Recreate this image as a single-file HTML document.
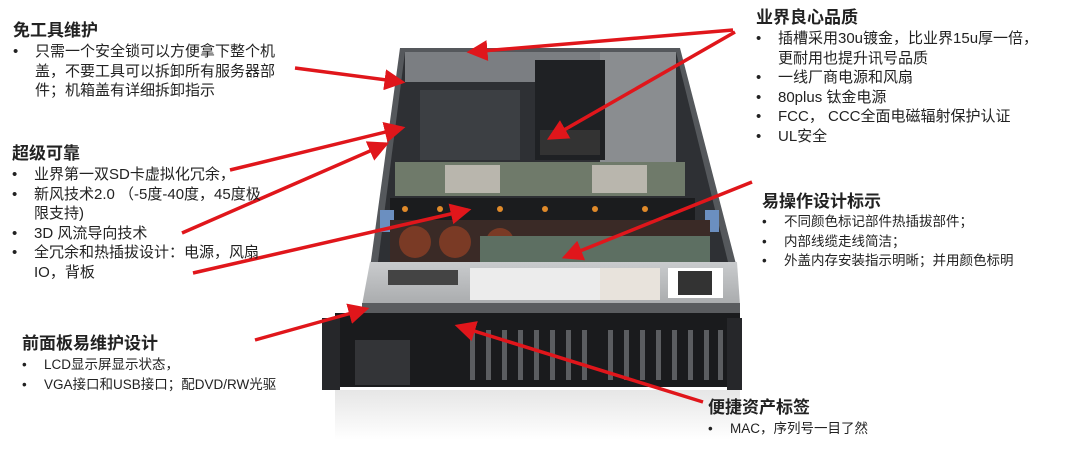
<!DOCTYPE html>
<html><head><meta charset="utf-8"><style>
body{margin:0;width:1080px;height:475px;background:#fff;position:relative;overflow:hidden;font-family:"Liberation Sans","Noto Sans CJK SC",sans-serif;color:#222}
.t{position:absolute;white-space:nowrap}
.h{font-weight:bold;font-size:17px;line-height:20px}
.l{font-size:15px;line-height:19.5px}
.s{font-size:13.5px;line-height:19.5px}
.b{padding-left:22px;text-indent:-22px}
.b::before{content:"•";display:inline-block;width:22px;text-indent:0}
svg{position:absolute;left:0;top:0}
</style></head><body>
<svg width="1080" height="475" viewBox="0 0 1080 475">
<defs>
<linearGradient id="lid" x1="0" y1="0" x2="0" y2="1"><stop offset="0" stop-color="#c9cbcd"/><stop offset="1" stop-color="#a9abad"/></linearGradient>
<linearGradient id="sh" x1="0" y1="0" x2="0" y2="1"><stop offset="0" stop-color="#e6e6e6"/><stop offset="1" stop-color="#fff"/></linearGradient>
<marker id="a" markerWidth="6" markerHeight="6" refX="5" refY="3" orient="auto" markerUnits="strokeWidth"><path d="M0,0 L6,3 L0,6 z" fill="#e0161b"/></marker>
</defs>
<rect x="335" y="390" width="405" height="50" fill="url(#sh)"/>
<polygon points="400,48 680,48 737,268 370,268" fill="#55585c"/>
<polygon points="405,52 676,52 728,262 378,262" fill="#2e3034"/>
<rect x="405" y="52" width="220" height="30" fill="#7b7e82"/>
<rect x="600" y="52" width="76" height="140" fill="#8a8d90"/>
<rect x="420" y="90" width="100" height="70" fill="#3c3f43"/>
<rect x="535" y="60" width="70" height="100" fill="#1f2124"/>
<rect x="540" y="130" width="60" height="25" fill="#333"/>
<rect x="395" y="162" width="290" height="34" fill="#6f7a6a"/>
<rect x="445" y="165" width="55" height="28" fill="#b9b6ad"/>
<rect x="592" y="165" width="55" height="28" fill="#b9b6ad"/>
<rect x="390" y="198" width="305" height="22" fill="#1b1c1e"/>
<g fill="#e08a2a"><circle cx="405" cy="209" r="3"/><circle cx="440" cy="209" r="3"/><circle cx="500" cy="209" r="3"/><circle cx="545" cy="209" r="3"/><circle cx="595" cy="209" r="3"/><circle cx="645" cy="209" r="3"/></g>
<rect x="380" y="210" width="14" height="22" fill="#6b8fc0"/><rect x="705" y="210" width="14" height="22" fill="#6b8fc0"/>
<rect x="390" y="220" width="320" height="42" fill="#3a2a26"/>
<g fill="#7a3a25"><circle cx="415" cy="242" r="16"/><circle cx="455" cy="242" r="16"/><circle cx="500" cy="242" r="14"/></g>
<rect x="480" y="236" width="230" height="26" fill="#5d6f62"/>
<polygon points="370,262 737,262 740,305 362,305" fill="url(#lid)"/>
<rect x="388" y="270" width="70" height="15" fill="#444"/>
<rect x="470" y="268" width="130" height="32" fill="#ececec"/>
<rect x="600" y="268" width="60" height="32" fill="#e8e3dc"/>
<rect x="668" y="268" width="55" height="30" fill="#fff"/><rect x="678" y="271" width="34" height="24" fill="#333"/>
<rect x="362" y="303" width="378" height="10" fill="#5a5c5f"/>
<rect x="335" y="313" width="405" height="74" fill="#1a1b1d"/>
<rect x="322" y="318" width="18" height="72" fill="#26272a"/><rect x="727" y="318" width="15" height="72" fill="#26272a"/>
<rect x="355" y="340" width="55" height="45" fill="#333437"/>
<g fill="#5b5d60">
<rect x="470" y="330" width="5" height="50"/><rect x="486" y="330" width="5" height="50"/><rect x="502" y="330" width="5" height="50"/><rect x="518" y="330" width="5" height="50"/><rect x="534" y="330" width="5" height="50"/><rect x="550" y="330" width="5" height="50"/><rect x="566" y="330" width="5" height="50"/><rect x="582" y="330" width="5" height="50"/>
<rect x="608" y="330" width="5" height="50"/><rect x="624" y="330" width="5" height="50"/><rect x="640" y="330" width="5" height="50"/><rect x="656" y="330" width="5" height="50"/><rect x="672" y="330" width="5" height="50"/><rect x="688" y="330" width="5" height="50"/><rect x="704" y="330" width="5" height="50"/><rect x="718" y="330" width="5" height="50"/>
</g>
<g stroke="#e0161b" stroke-width="3.5" fill="none" marker-end="url(#a)">
<line x1="733" y1="30" x2="470" y2="52"/>
<line x1="735" y1="32" x2="550" y2="138"/>
<line x1="295" y1="68" x2="402" y2="82"/>
<line x1="230" y1="170" x2="402" y2="128"/>
<line x1="182" y1="233" x2="386" y2="144"/>
<line x1="193" y1="273" x2="468" y2="210"/>
<line x1="255" y1="340" x2="366" y2="309"/>
<line x1="703" y1="402" x2="458" y2="326"/>
<line x1="752" y1="182" x2="565" y2="257"/>
</g>
</svg>
<div class="t" style="left:13px;top:21px"><div class="h">免工具维护</div>
<div class="l" style="margin-top:1px"><div class="b">只需一个安全锁可以方便拿下整个机<br>盖，不要工具可以拆卸所有服务器部<br>件；机箱盖有详细拆卸指示</div></div></div>
<div class="t" style="left:12px;top:144px"><div class="h">超级可靠</div>
<div class="l" style="margin-top:1px"><div class="b">业界第一双SD卡虚拟化冗余，</div><div class="b">新风技术2.0 （-5度-40度，45度极<br>限支持)</div><div class="b">3D 风流导向技术</div><div class="b">全冗余和热插拔设计：电源，风扇<br>IO，背板</div></div></div>
<div class="t" style="left:22px;top:334px"><div class="h">前面板易维护设计</div>
<div class="s" style="margin-top:1px"><div class="b">LCD显示屏显示状态，</div><div class="b">VGA接口和USB接口；配DVD/RW光驱</div></div></div>
<div class="t" style="left:756px;top:8px"><div class="h">业界良心品质</div>
<div class="l" style="margin-top:1px"><div class="b">插槽采用30u镀金，比业界15u厚一倍，<br>更耐用也提升讯号品质</div><div class="b">一线厂商电源和风扇</div><div class="b">80plus 钛金电源</div><div class="b">FCC， CCC全面电磁辐射保护认证</div><div class="b">UL安全</div></div></div>
<div class="t" style="left:762px;top:192px"><div class="h">易操作设计标示</div>
<div class="s" style="margin-top:0px"><div class="b">不同颜色标记部件热插拔部件；</div><div class="b">内部线缆走线简洁；</div><div class="b">外盖内存安装指示明晰；并用颜色标明</div></div></div>
<div class="t" style="left:708px;top:398px"><div class="h">便捷资产标签</div>
<div class="s" style="margin-top:1px"><div class="b">MAC，序列号一目了然</div></div></div>
</body></html>
